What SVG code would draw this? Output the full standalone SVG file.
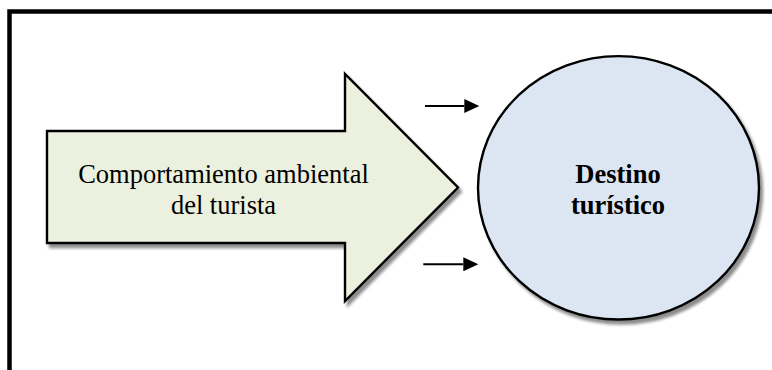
<svg xmlns="http://www.w3.org/2000/svg" width="772" height="370" viewBox="0 0 772 370">
  <style>
    .shape { stroke: #000; stroke-width: 2.4; stroke-linejoin: miter; }
    .lbl { font-size: 26.5px; fill: #000; text-anchor: middle; }
    .bold { font-weight: bold; }
    .conn { stroke: #000; stroke-width: 2; fill: none; }
  </style>
  <defs>
    <filter id="shadow" x="-10%" y="-10%" width="125%" height="125%">
      <feGaussianBlur in="SourceAlpha" stdDeviation="1.8" result="blur"/>
      <feOffset in="blur" dx="3" dy="3.5" result="off"/>
      <feComponentTransfer in="off" result="soft">
        <feFuncA type="linear" slope="0.45"/>
      </feComponentTransfer>
      <feMerge>
        <feMergeNode in="soft"/>
        <feMergeNode in="SourceGraphic"/>
      </feMerge>
    </filter>
    <marker id="head" markerUnits="userSpaceOnUse" markerWidth="16" markerHeight="14" refX="0" refY="7" orient="auto">
      <path d="M0,0 L15,7 L0,14 Z" fill="#000"/>
    </marker>
  </defs>

  <rect id="frame" x="9.5" y="11.5" width="800" height="400" fill="#fff" stroke="#000" stroke-width="4.5"/>

  <g id="node-comportamiento" font-family="'Liberation Serif', 'Times New Roman', 'DejaVu Serif', serif">
    <path class="shape" filter="url(#shadow)" fill="#EBF1DE" d="M47,131 L345,131 L345,74 L458,187.5 L345,301 L345,243 L47,243 Z"/>
    <text class="lbl" x="223.5" y="182.5">Comportamiento ambiental</text>
    <text class="lbl" x="223.5" y="213.5">del turista</text>
  </g>

  <g id="node-destino" font-family="'Liberation Serif', 'Times New Roman', 'DejaVu Serif', serif">
    <ellipse class="shape" filter="url(#shadow)" fill="#DCE6F2" cx="618.5" cy="187.8" rx="140.5" ry="131.7"/>
    <text class="lbl bold" x="618" y="182.5">Destino</text>
    <text class="lbl bold" x="618" y="213.5">turístico</text>
  </g>

  <g id="connectors">
    <line class="conn" x1="425" y1="106" x2="464.3" y2="106" marker-end="url(#head)"/>
    <line class="conn" x1="423.3" y1="264.3" x2="463.3" y2="264.3" marker-end="url(#head)"/>
  </g>
</svg>
